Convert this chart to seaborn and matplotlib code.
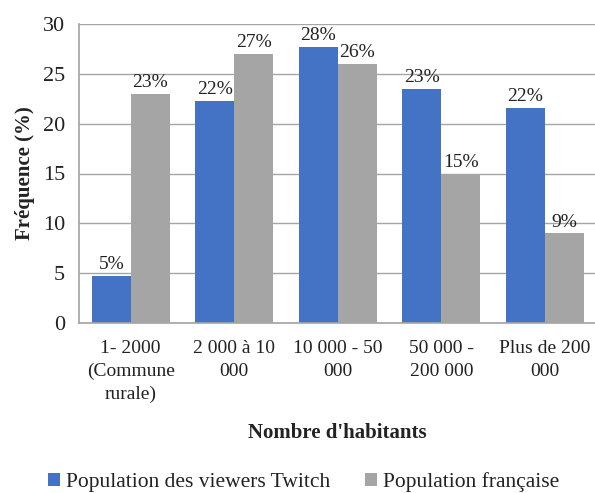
import matplotlib
matplotlib.use("Agg")
import matplotlib.pyplot as plt
import seaborn as sns
import pandas as pd
from matplotlib.patches import Patch

categories = ["1- 2000\n(Commune\nrurale)", "2 000 à 10\n000", "10 000 - 50\n000", "50 000 -\n200 000", "Plus de 200\n000"]
series_names = ["Population des viewers Twitch", "Population française"]
twitch = [4.7, 22.3, 27.7, 23.5, 21.6]
france = [23.0, 27.0, 26.0, 15.0, 9.0]
twitch_labels = ["5%", "22%", "28%", "23%", "22%"]
france_labels = ["23%", "27%", "26%", "15%", "9%"]
yticks = [0, 5, 10, 15, 20, 25, 30]

colors = ["#4472C4", "#A5A5A5"]

df = pd.DataFrame({
    "cat": categories * 2,
    "serie": [series_names[0]] * 5 + [series_names[1]] * 5,
    "val": twitch + france,
})

sns.set_theme(style="white")
plt.rcParams["font.family"] = ["Liberation Serif", "DejaVu Serif"]

fig = plt.figure(figsize=(5.95, 4.93), dpi=100)
ax = fig.add_axes([79/595, 170/493, 517.5/595, 299/493])

sns.barplot(data=df, x="cat", y="val", hue="serie", palette=colors, width=0.75,
            saturation=1, ax=ax, legend=False, edgecolor="none")

ax.set_xlim(-0.5, 4.5)
ax.set_ylim(0, 30)
ax.set_yticks(yticks)
ax.set_yticklabels([str(v) for v in yticks], fontsize=16, color="#222222")
ax.yaxis.grid(True, color="#a6a6a6", linewidth=1)
ax.set_axisbelow(True)
for s in ["top", "right"]:
    ax.spines[s].set_visible(False)
ax.spines["left"].set_color("#a6a6a6")
ax.spines["bottom"].set_color("#a6a6a6")
ax.tick_params(axis="y", length=6, color="#a6a6a6", direction="out", pad=4)
ax.set_xticks(range(5))
ax.set_xticklabels(categories, fontsize=14, color="#222222", linespacing=1.45)
ax.tick_params(axis="x", which="major", length=0, pad=12)
ax.set_xticks([-0.5, 0.5, 1.5, 2.5, 3.5, 4.5], minor=True)
ax.tick_params(axis="x", which="minor", length=7, color="#a6a6a6", direction="out")

ax.set_ylabel("Fréquence (%)", fontsize=15, fontweight="bold", color="#222222", labelpad=6)
ax.set_xlabel("Nombre d'habitants", fontsize=15, fontweight="bold", color="#222222", labelpad=14)

for cont, labs in zip(ax.containers, [twitch_labels, france_labels]):
    ax.bar_label(cont, labels=labs, fontsize=14, color="#222222", padding=2)

handles = [Patch(facecolor=c, edgecolor="none") for c in colors]
fig.legend(handles, series_names, loc="center", bbox_to_anchor=(0.51, 0.022), ncol=2,
           frameon=False, fontsize=15.5, handlelength=0.55, handleheight=0.55,
           handletextpad=0.3, columnspacing=1.6, labelcolor="#222222")

fig.savefig("out.png", dpi=100)
